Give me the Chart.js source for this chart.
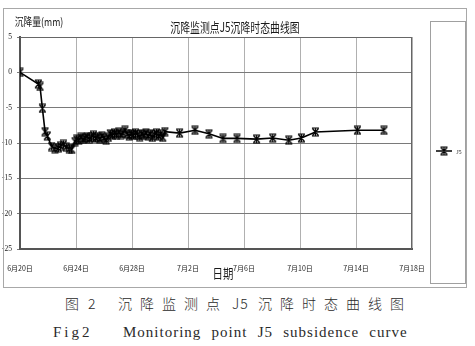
<!DOCTYPE html>
<html>
<head>
<meta charset="utf-8">
<script src="https://cdn.jsdelivr.net/npm/chart.js@4.4.1/dist/chart.umd.min.js"></script>
<style>
  html, body { margin: 0; padding: 0; background: #fff; }
  #page { position: relative; width: 475px; height: 346px; overflow: hidden; }
  #chart-box { position: absolute; left: 0; top: 0; width: 475px; height: 290px; }
  .cap { position: absolute; white-space: nowrap; color: #2a2a2a; line-height: 1; }
  .cn { font-family: "Noto Sans CJK SC", sans-serif; font-weight: 300; font-size: 14px; letter-spacing: 8px; top: 296px; }
  .en { font-family: "Liberation Serif", serif; font-size: 15px; letter-spacing: 1px; word-spacing: 5.5px; top: 325px; }
</style>
</head>
<body>
<div id="page">
  <div id="chart-box"><canvas id="chart" width="475" height="290"></canvas></div>
  <span class="cap cn" style="left:65px">图</span>
  <span class="cap cn" style="left:88px">2</span>
  <span class="cap cn" style="left:118px">沉降监测点</span>
  <span class="cap cn" style="left:232px; letter-spacing:1px">J5</span>
  <span class="cap cn" style="left:258px">沉降时态曲线图</span>
  <span class="cap en" style="left:53px; letter-spacing:3px">Fig2</span>
  <span class="cap en" style="left:123px">Monitoring point J5 subsidence curve</span>
</div>
<script>
// days counted from 6/20, settlement in mm
const days = [
  0, 1.31, 1.43, 1.6, 1.79, 1.95, 2.26, 2.5, 2.74, 2.9, 3.1, 3.3, 3.52, 3.7, 3.93,
  4.05, 4.2, 4.35, 4.5, 4.65, 4.8, 4.95, 5.1, 5.25, 5.4, 5.55, 5.7, 5.85, 6.0, 6.15,
  6.3, 6.45, 6.6, 6.75, 6.9, 7.05, 7.2, 7.35, 7.5, 7.65, 7.8, 7.95, 8.1, 8.25, 8.4,
  8.55, 8.7, 8.85, 9.0, 9.15, 9.3, 9.45, 9.6, 9.75, 9.9, 10.05, 10.2, 10.35,
  11.4, 12.5, 13.5, 14.5, 15.5, 16.9, 18.05, 19.2, 20.1, 21.1, 24.1, 26.0
];
const settlement = [
  0, -1.65, -2.0, -5.1, -8.4, -9.0, -10.5, -10.8, -10.7, -10.4, -10.2, -10.6, -10.8, -10.9, -9.8,
  -9.5, -9.6, -9.2, -9.5, -9.3, -9.1, -9.4, -9.2, -8.9, -9.3, -9.1, -9.4, -9.0, -9.3, -9.6,
  -9.2, -8.7, -8.9, -8.6, -8.8, -8.5, -8.8, -8.6, -8.2, -8.7, -9.0, -8.7, -8.9, -8.6, -8.8,
  -9.1, -8.7, -8.9, -8.6, -9.0, -8.7, -9.2, -8.8, -8.6, -9.0, -8.7, -9.2, -8.4,
  -8.6, -8.2, -8.7, -9.35, -9.35, -9.45, -9.3, -9.6, -9.3, -8.45, -8.2, -8.2
];
const dateTicks = ["6月20日", "6月24日", "6月28日", "7月2日", "7月6日", "7月10日", "7月14日", "7月18日"];
const seriesName = "J5";
const chartTitle = "沉降监测点J5沉降时态曲线图";
const yTitle = "沉降量(mm)";
const xTitle = "日期";

// asterisk marker with caps, like the spreadsheet "star" marker
function makeStar() {
  const c = document.createElement("canvas");
  c.width = 9;
  c.height = 10;
  const g = c.getContext("2d");
  g.strokeStyle = "#000";
  g.lineWidth = 1.2;
  g.beginPath();
  g.moveTo(1.5, 1.5); g.lineTo(7.5, 8.5);
  g.moveTo(7.5, 1.5); g.lineTo(1.5, 8.5);
  g.moveTo(4.5, 1); g.lineTo(4.5, 9);
  g.moveTo(1, 1); g.lineTo(8, 1);
  g.moveTo(1, 9); g.lineTo(8, 9);
  g.stroke();
  return c;
}
const star = makeStar();

function squeezeText(ctx, text, x, y, font, sx) {
  ctx.save();
  ctx.font = font;
  ctx.fillStyle = "#1a1a1a";
  ctx.textAlign = "center";
  ctx.textBaseline = "middle";
  ctx.translate(x, y);
  ctx.scale(sx, 1);
  ctx.fillText(text, 0, 0);
  ctx.restore();
}

const decorations = {
  id: "decorations",
  afterDraw(chart) {
    const ctx = chart.ctx;
    const a = chart.chartArea;
    ctx.save();
    // outer frame
    ctx.strokeStyle = "#a8a8a8";
    ctx.lineWidth = 1;
    ctx.strokeRect(3.5, 8.5, 463, 279);
    // plot top/right border
    ctx.strokeStyle = "#666";
    ctx.beginPath();
    ctx.moveTo(a.left, a.top + 0.5);
    ctx.lineTo(a.right - 0.5, a.top + 0.5);
    ctx.lineTo(a.right - 0.5, a.bottom);
    ctx.stroke();
    // legend box
    ctx.strokeStyle = "#a0a0a0";
    ctx.strokeRect(430.5, 21.5, 35, 262);
    ctx.strokeStyle = "#000";
    ctx.lineWidth = 1.5;
    ctx.beginPath();
    ctx.moveTo(436, 151);
    ctx.lineTo(452, 151);
    ctx.stroke();
    ctx.drawImage(star, 439.5, 146);
    ctx.restore();
    squeezeText(ctx, seriesName, 459, 152, "7px 'Liberation Serif'", 0.8);
    squeezeText(ctx, chartTitle, 235, 27, "13px 'Noto Sans CJK SC'", 0.76);
    squeezeText(ctx, yTitle, 39, 22, "11px 'Noto Sans CJK SC'", 0.8);
    squeezeText(ctx, xTitle, 223, 273, "13px 'Noto Sans CJK SC'", 0.8);
  }
};

new Chart(document.getElementById("chart"), {
  type: "line",
  data: {
    datasets: [
      {
        label: seriesName,
        data: days.map((d, i) => ({ x: d, y: settlement[i] })),
        borderColor: "#000",
        borderWidth: 1.6,
        pointStyle: star,
        pointRadius: 4,
        tension: 0,
        fill: false,
      },
    ],
  },
  options: {
    responsive: false,
    animation: false,
    layout: { autoPadding: false, padding: { left: 0, top: 37, right: 63, bottom: 0 } },
    plugins: { legend: { display: false }, tooltip: { enabled: false } },
    scales: {
      x: {
        type: "linear",
        min: 0,
        max: 28,
        afterFit: (s) => {
          s.height = 41;
          s.paddingLeft = 0;
          s.paddingRight = 0;
        },
        grid: { color: "#b0b0b0", lineWidth: 1, drawTicks: false },
        border: { color: "#555", width: 2 },
        ticks: {
          stepSize: 4,
          padding: 15,
          maxRotation: 0,
          color: "#1a1a1a",
          font: { family: "'Noto Sans CJK SC'", size: 7 },
          callback: (v) => dateTicks[v / 4],
        },
      },
      y: {
        min: -25,
        max: 5,
        afterFit: (s) => {
          s.width = 20;
          s.paddingTop = 0;
          s.paddingBottom = 0;
        },
        grid: { color: "#7a7a7a", lineWidth: 1, tickLength: 3 },
        border: { color: "#555", width: 2 },
        ticks: {
          stepSize: 5,
          padding: 5,
          color: "#1a1a1a",
          font: { family: "'Liberation Serif'", size: 7.5 },
        },
      },
    },
  },
  plugins: [decorations],
});
</script>
</body>
</html>
